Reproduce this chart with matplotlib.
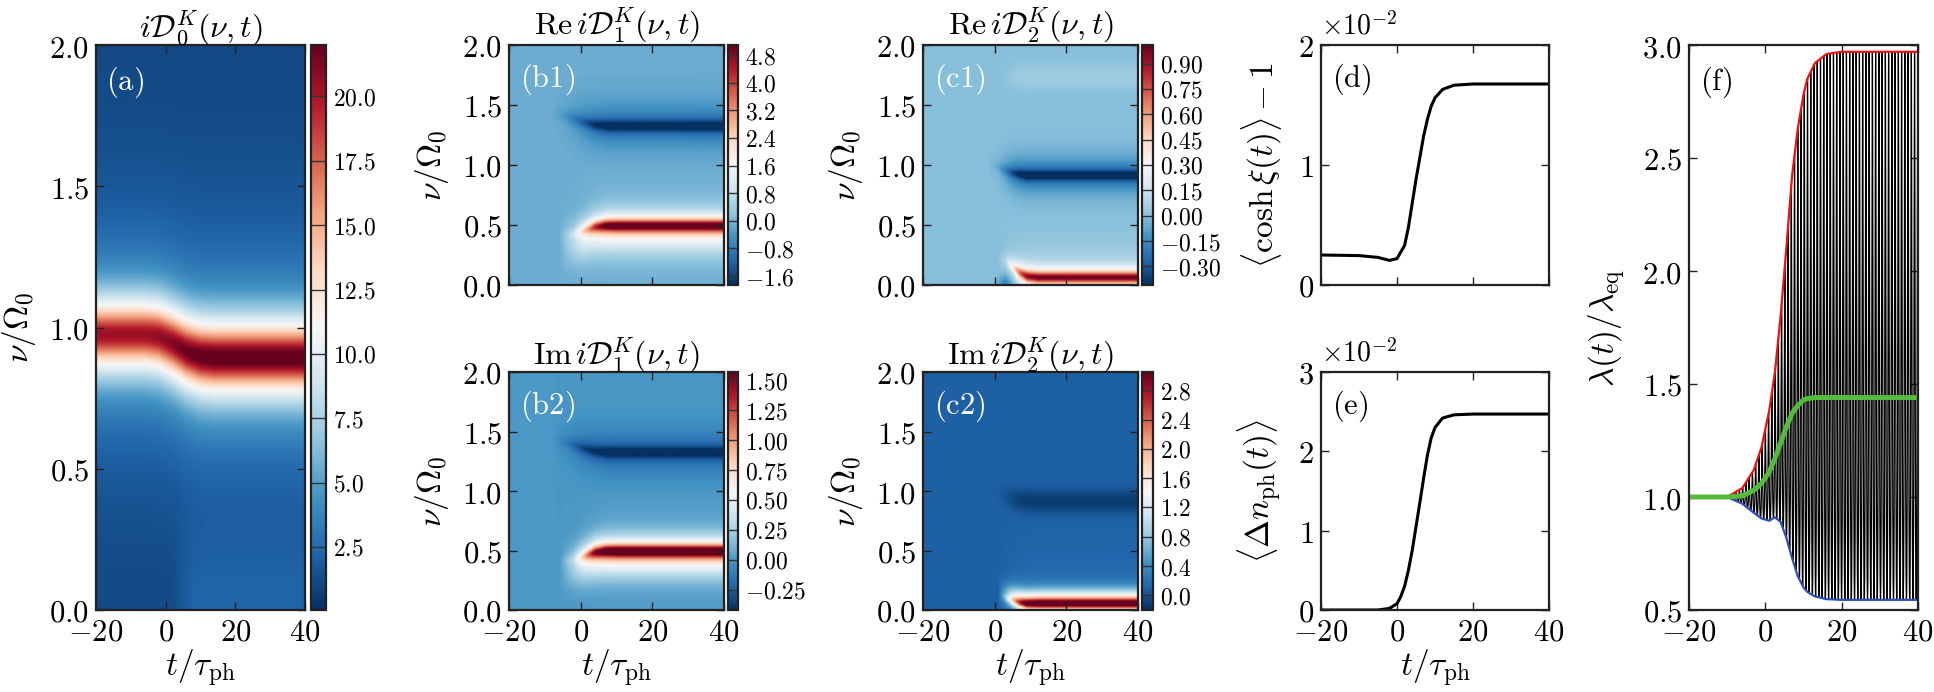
import numpy as np
import matplotlib
matplotlib.use('Agg')
import matplotlib.pyplot as plt
from matplotlib.ticker import FuncFormatter

plt.rcParams['mathtext.fontset'] = 'cm'
plt.rcParams['font.family'] = 'serif'
plt.rcParams['axes.linewidth'] = 1.6
plt.rcParams['axes.edgecolor'] = '#222222'

# === DATA ===
# heat-map grid
t_min, t_max = -20, 40
nu_min, nu_max = 0.0, 2.0

# (a) iD0: one band, centre / peak height read at a few times
a_bg = 0.9
a_t    = [-20, -6, -2, 2, 6, 10, 14, 40]
a_nu   = [0.975, 0.975, 0.968, 0.945, 0.915, 0.898, 0.893, 0.893]
a_amp  = [19.5, 19.5, 19.8, 20.3, 21.0, 21.6, 21.8, 21.8]
a_width = 0.11
a_low_t   = [-20, 2, 8, 40]          # faint lighter patch near nu = 0
a_low_amp = [0.0, 0.0, 1.0, 1.0]

# (b1) Re iD1
b1_bg = -0.1
b1_red_t    = [-20, -6, -2, 1, 4, 7, 10, 40]
b1_red_nu   = [0.40, 0.40, 0.42, 0.45, 0.48, 0.49, 0.49, 0.49]
b1_red_amp  = [0.0, 0.0, 0.5, 1.8, 3.6, 4.8, 5.1, 5.1]
b1_halo_amp = [0.0, 0.0, 0.6, 1.0, 1.0, 1.0, 1.0, 1.0]
b1_blue_t   = [-20, -8, -4, 0, 4, 8, 40]
b1_blue_nu  = [1.42, 1.42, 1.40, 1.36, 1.33, 1.32, 1.32]
b1_blue_amp = [0.0, 0.0, -0.3, -0.9, -1.5, -1.8, -1.85]

# (b2) Im iD1
b2_bg = 0.0
b2_red_amp  = [0.0, 0.0, 0.15, 0.6, 1.2, 1.5, 1.6, 1.6]
b2_halo_amp = [0.0, 0.0, 0.2, 0.35, 0.4, 0.4, 0.4, 0.4]
b2_blue_amp = [0.0, 0.0, -0.1, -0.25, -0.36, -0.42, -0.42]

# (c1) Re iD2
c1_bg = 0.0
c1_dark_t    = [-20, -2, 1, 3, 5, 7, 9, 40]
c1_dark_nu   = [1.0, 1.0, 0.98, 0.95, 0.93, 0.92, 0.91, 0.91]
c1_dark_amp  = [0.0, 0.0, -0.05, -0.15, -0.28, -0.37, -0.41, -0.41]
c1_faint_amp = [0.0, 0.0, 0.0, 0.01, 0.03, 0.045, 0.05, 0.05]
c1_red_t   = [-20, 1, 3, 5, 7, 9, 12, 40]
c1_red_nu  = [0.22, 0.22, 0.20, 0.15, 0.10, 0.07, 0.06, 0.06]
c1_red_amp = [0.0, 0.0, 0.1, 0.35, 0.72, 0.95, 1.0, 1.0]
c1_spot_t   = [-20, 0, 3, 6, 40]
c1_spot_amp = [0.0, 0.0, -0.2, 0.0, 0.0]

# (c2) Im iD2
c2_bg = 0.1
c2_dark_amp = [0.0, 0.0, -0.02, -0.08, -0.15, -0.21, -0.24, -0.24]
c2_red_nu   = [0.12, 0.12, 0.10, 0.08, 0.06, 0.05, 0.05, 0.05]
c2_red_amp  = [0.0, 0.0, 0.5, 1.4, 2.2, 2.8, 3.0, 3.0]
c2_halo_amp = [0.0, 0.0, 0.3, 0.5, 0.6, 0.6, 0.6, 0.6]

# (d) <cosh xi(t)> - 1, in units of 1e-2
d_t = [-20, -10, -5, -2, 0, 2, 3, 4, 5, 6, 7, 8, 9, 10, 12, 15, 20, 40]
d_y = [0.25, 0.245, 0.23, 0.205, 0.22, 0.33, 0.48, 0.68, 0.88, 1.06, 1.24, 1.38, 1.49, 1.56, 1.63, 1.665, 1.675, 1.675]

# (e) <Delta n_ph(t)>, in units of 1e-2
e_t = [-20, -5, -2, 0, 1, 2, 3, 4, 5, 6, 7, 8, 9, 10, 12, 15, 20, 40]
e_y = [0.0, 0.0, 0.02, 0.08, 0.17, 0.3, 0.5, 0.75, 1.05, 1.35, 1.66, 1.95, 2.17, 2.3, 2.42, 2.46, 2.47, 2.47]

# (f) lambda(t)/lambda_eq envelopes and mean
f_t     = [-20, -10, -6, -3, -1, 1, 2.5, 4, 5.5, 7, 8.5, 10, 11, 13, 16, 20, 40]
f_upper = [1.0, 1.0, 1.04, 1.12, 1.22, 1.38, 1.55, 1.8, 2.1, 2.42, 2.63, 2.78, 2.85, 2.92, 2.96, 2.97, 2.97]
f_lower = [1.0, 1.0, 0.97, 0.93, 0.905, 0.895, 0.91, 0.89, 0.82, 0.73, 0.65, 0.60, 0.58, 0.56, 0.548, 0.545, 0.545]
f_mean  = [1.0, 1.0, 1.005, 1.03, 1.06, 1.11, 1.17, 1.24, 1.31, 1.37, 1.405, 1.43, 1.435, 1.44, 1.44, 1.44, 1.44]
f_period = 0.85      # oscillation period read from the stripes
f_spike = 0.5        # peakedness of the oscillation

# === FIELD BUILDING ===
t_grid = np.linspace(t_min, t_max, 361)
nu_grid = np.linspace(nu_min, nu_max, 401)
T, NU = np.meshgrid(t_grid, nu_grid)


def band(t_k, nu_k, amp_k, width, shape='lor'):
    c = np.interp(T, t_k, nu_k)
    a = np.interp(T, t_k, amp_k)
    d = NU - c
    if shape == 'lor':
        return a * width**2 / (d**2 + width**2)
    return a * np.exp(-0.5 * (d / width)**2)


def const(v, n):
    return [v] * n


Z_a = (a_bg + band(a_t, a_nu, a_amp, a_width)
       + band(a_low_t, const(0.0, 4), a_low_amp, 0.2, 'gau'))

Z_b1 = (b1_bg + band(b1_red_t, b1_red_nu, b1_red_amp, 0.05)
        + band(b1_red_t, [v - 0.08 for v in b1_red_nu], b1_halo_amp, 0.12, 'gau')
        + band(b1_blue_t, b1_blue_nu, b1_blue_amp, 0.05)
        + band(b1_blue_t, b1_blue_nu, [0.2 * v for v in b1_blue_amp], 0.15, 'gau'))

Z_b2 = (b2_bg + band(b1_red_t, b1_red_nu, b2_red_amp, 0.05)
        + band(b1_red_t, [v - 0.06 for v in b1_red_nu], b2_halo_amp, 0.12, 'gau')
        + band(b1_blue_t, b1_blue_nu, b2_blue_amp, 0.05)
        + band(b1_blue_t, b1_blue_nu, [0.25 * v for v in b2_blue_amp], 0.15, 'gau'))

Z_c1 = (c1_bg + band(c1_dark_t, c1_dark_nu, c1_dark_amp, 0.045)
        + band(c1_dark_t, c1_dark_nu, [0.25 * v for v in c1_dark_amp], 0.12, 'gau')
        + band(c1_dark_t, const(1.73, 8), c1_faint_amp, 0.07, 'gau')
        + band(c1_red_t, c1_red_nu, c1_red_amp, 0.05)
        + band(c1_spot_t, const(0.0, 5), c1_spot_amp, 0.05, 'gau'))

Z_c2 = (c2_bg + band(c1_dark_t, c1_dark_nu, c2_dark_amp, 0.07, 'gau')
        + band(c1_red_t, c2_red_nu, c2_red_amp, 0.045)
        + band(c1_red_t, [v + 0.05 for v in c2_red_nu], c2_halo_amp, 0.06, 'gau'))

# === FIGURE ===
W, H = 1934, 692
fig = plt.figure(figsize=(W / 100, H / 100), dpi=100)


def rect(x0, x1, ytop, ybot):
    return [x0 / W, 1 - ybot / H, (x1 - x0) / W, (ybot - ytop) / H]


def fmt(nd):
    return FuncFormatter(lambda v, p: ('$%.' + str(nd) + 'f$') % v)


def style(ax, xlabels=True):
    ax.tick_params(direction='in', top=True, right=True, length=6, width=1.0,
                   labelsize=22, pad=5, color='#222222')
    ax.set_xlim(t_min, t_max)
    ax.set_xticks([-20, 0, 20, 40])
    ax.xaxis.set_major_formatter(fmt(0))
    if not xlabels:
        ax.set_xticklabels([])
    else:
        ax.set_xlabel(r'$t/\tau_{\rm ph}$', fontsize=24, labelpad=0)


heat = [
    (Z_a,  rect(96, 305, 45, 610),  rect(311, 326, 45, 610),  0.05, 22.0, np.arange(2.5, 20.1, 2.5), 1,
     r'$i\mathcal{D}_0^K(\nu,t)$', '(a)', True, 15),
    (Z_b1, rect(509, 724, 45, 285), rect(728, 738, 45, 285), -1.86, 5.09, np.arange(-1.6, 4.81, 0.8), 1,
     r'$\mathrm{Re}\,i\mathcal{D}_1^K(\nu,t)$', '(b1)', False, 10),
    (Z_b2, rect(509, 724, 372, 610), rect(728, 738, 372, 610), -0.42, 1.57, np.arange(-0.25, 1.51, 0.25), 2,
     r'$\mathrm{Im}\,i\mathcal{D}_1^K(\nu,t)$', '(b2)', True, 10),
    (Z_c1, rect(923, 1138, 45, 285), rect(1142, 1153, 45, 285), -0.41, 1.01, np.arange(-0.30, 0.91, 0.15), 2,
     r'$\mathrm{Re}\,i\mathcal{D}_2^K(\nu,t)$', '(c1)', False, 11),
    (Z_c2, rect(923, 1138, 372, 610), rect(1142, 1153, 372, 610), -0.2, 3.05, np.arange(0.0, 2.81, 0.4), 1,
     r'$\mathrm{Im}\,i\mathcal{D}_2^K(\nu,t)$', '(c2)', True, 11),
]

for Z, r, rc, vmin, vmax, cticks, nd, title, tag, xl, cw in heat:
    ax = fig.add_axes(r)
    im = ax.imshow(Z, origin='lower', extent=[t_min, t_max, nu_min, nu_max], aspect='auto',
                   cmap='RdBu_r', vmin=vmin, vmax=vmax, interpolation='bilinear')
    style(ax, xl)
    ax.set_ylim(nu_min, nu_max)
    ax.set_yticks([0, 0.5, 1.0, 1.5, 2.0])
    ax.yaxis.set_major_formatter(fmt(1))
    ax.set_ylabel(r'$\nu/\Omega_0$', fontsize=24, labelpad=8)
    ax.set_title(title, fontsize=23, pad=5)
    ax.text(0.05, 0.965 if tag == '(a)' else 0.93, r'$\mathrm{' + tag + '}$', transform=ax.transAxes,
            color='white', fontsize=22, va='top', ha='left')
    cax = fig.add_axes(rc)
    cb = fig.colorbar(im, cax=cax, ticks=cticks)
    cb.outline.set_linewidth(1.6)
    cb.outline.set_edgecolor('#222222')
    cax.tick_params(direction='in', length=cw * 0.72, width=1.0, labelsize=17, pad=5, color='#333333')
    cax.yaxis.set_major_formatter(fmt(nd))

# (d)
ax_d = fig.add_axes(rect(1321, 1549, 45, 285))
ax_d.plot(d_t, d_y, color='black', lw=2.2)
style(ax_d, False)
ax_d.set_ylim(0, 2)
ax_d.set_yticks([0, 1, 2])
ax_d.yaxis.set_major_formatter(fmt(0))
ax_d.set_ylabel(r'$\langle\cosh\xi(t)\rangle-1$', fontsize=24, labelpad=10)
ax_d.text(0.0, 1.02, r'$\times10^{-2}$', transform=ax_d.transAxes, fontsize=20, va='bottom', ha='left')
ax_d.text(0.05, 0.93, r'$\mathrm{(d)}$', transform=ax_d.transAxes, fontsize=22, va='top')

# (e)
ax_e = fig.add_axes(rect(1321, 1549, 372, 610))
ax_e.plot(e_t, e_y, color='black', lw=2.2)
style(ax_e, True)
ax_e.set_ylim(0, 3)
ax_e.set_yticks([0, 1, 2, 3])
ax_e.yaxis.set_major_formatter(fmt(0))
ax_e.set_ylabel(r'$\langle\Delta n_{\rm ph}(t)\rangle$', fontsize=24, labelpad=10)
ax_e.text(0.0, 1.02, r'$\times10^{-2}$', transform=ax_e.transAxes, fontsize=20, va='bottom', ha='left')
ax_e.text(0.05, 0.93, r'$\mathrm{(e)}$', transform=ax_e.transAxes, fontsize=22, va='top')

# (f)
t_f = np.linspace(t_min, t_max, 8001)
up = np.interp(t_f, f_t, f_upper)
lo = np.interp(t_f, f_t, f_lower)
phase = 2 * np.pi * t_f / f_period
g = (1 / (1 - f_spike * np.cos(phase)) - 1 / (1 + f_spike)) / (1 / (1 - f_spike) - 1 / (1 + f_spike))
lam = lo + (up - lo) * g

ax_f = fig.add_axes(rect(1689, 1918, 45, 610))
ax_f.plot(t_f, lam, color='black', lw=0.9)
ax_f.plot(f_t, f_upper, color='#ee1111', lw=1.6)
ax_f.plot(f_t, f_lower, color='#2f4fb5', lw=1.6)
ax_f.plot(f_t, f_mean, color='#55bb3d', lw=3.6)
style(ax_f, True)
ax_f.set_xlabel('')
ax_f.set_ylim(0.5, 3.0)
ax_f.set_yticks([0.5, 1.0, 1.5, 2.0, 2.5, 3.0])
ax_f.yaxis.set_major_formatter(fmt(1))
ax_f.set_ylabel(r'$\lambda(t)/\lambda_{\rm eq}$', fontsize=24, labelpad=10)
ax_f.text(0.05, 0.965, r'$\mathrm{(f)}$', transform=ax_f.transAxes, fontsize=22, va='top')

fig.savefig('out.png', dpi=100)
